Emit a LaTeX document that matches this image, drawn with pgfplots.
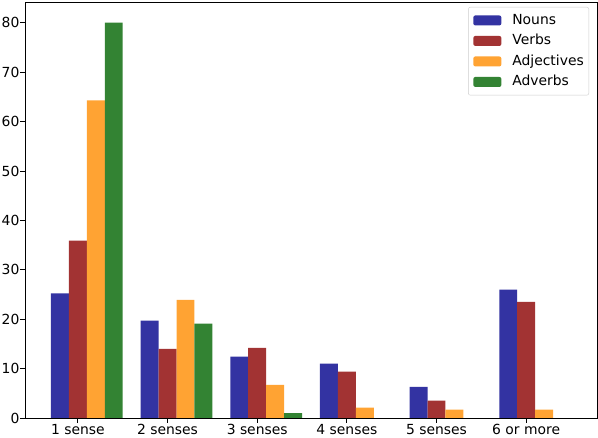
\documentclass[border=0pt]{standalone}
\usepackage{fontspec}
\setmainfont{DejaVu Sans}
\usepackage{pgfplots}
\pgfplotsset{compat=1.18}
\usetikzlibrary{calc}

\definecolor{cNoun}{RGB}{51,51,162}
\definecolor{cVerb}{RGB}{162,51,51}
\definecolor{cAdj}{RGB}{255,163,51}
\definecolor{cAdv}{RGB}{51,131,51}
\definecolor{legframe}{RGB}{204,204,204}

\begin{document}
\fontsize{13.9bp}{16bp}\selectfont
\begin{tikzpicture}
\begin{axis}[
    name=ax,
    scale only axis,
    width=572bp, height=416bp,
    xmin=-0.59, xmax=5.79,
    ymin=0, ymax=84.2,
    xtick={0,...,5},
    xticklabels={1 sense, 2 senses, 3 senses, 4 senses, 5 senses, 6 or more},
    ytick={0,10,...,80},
    tick align=outside,
    xtick pos=bottom, ytick pos=left,
    major tick length=4.9bp,
    tick style={black, line width=0.8bp},
    axis line style={line width=0.8bp},
    /pgf/number format/assume math mode=true,
    tick label style={font=\fontsize{13.9bp}{16bp}\selectfont},
    xticklabel style={inner ysep=1bp},
    yticklabel style={inner xsep=0.5bp},
    ybar, bar width=0.2,
    legend cell align=left,
    legend style={at={(1,1)}, anchor=north east, xshift=-8bp, yshift=-5bp,
        draw=legframe, rounded corners=2bp, fill=white,
        inner xsep=5bp, inner ysep=3bp,
        column sep=11bp,
        nodes={inner xsep=0bp, inner ysep=3.5bp, text height=10.5bp, text depth=3bp},
        font=\fontsize{13.9bp}{16bp}\selectfont},
    legend image code/.code={\fill[#1] (0bp,-5bp) rectangle (28bp,5bp);},
]
% Nouns
\addplot[fill=cNoun, draw=none, bar shift=-0.2] coordinates
    {(0,25.2) (1,19.7) (2,12.4) (3,11.0) (4,6.3) (5,26.0)};
% Verbs
\addplot[fill=cVerb, draw=none, bar shift=0] coordinates
    {(0,35.9) (1,14.0) (2,14.2) (3,9.4) (4,3.5) (5,23.5)};
% Adjectives
\addplot[fill=cAdj, draw=none, bar shift=0.2] coordinates
    {(0,64.3) (1,23.9) (2,6.7) (3,2.1) (4,1.7) (5,1.7)};
% Adverbs
\addplot[fill=cAdv, draw=none, bar shift=0.4] coordinates
    {(0,80.0) (1,19.1) (2,1.0) (3,0) (4,0) (5,0)};
\legend{Nouns, Verbs, Adjectives, Adverbs}
\end{axis}
\pgfresetboundingbox
\useasboundingbox ($(ax.south west)+(-25bp,-20bp)$) rectangle ($(ax.north east)+(1bp,2bp)$);
\end{tikzpicture}
\end{document}
